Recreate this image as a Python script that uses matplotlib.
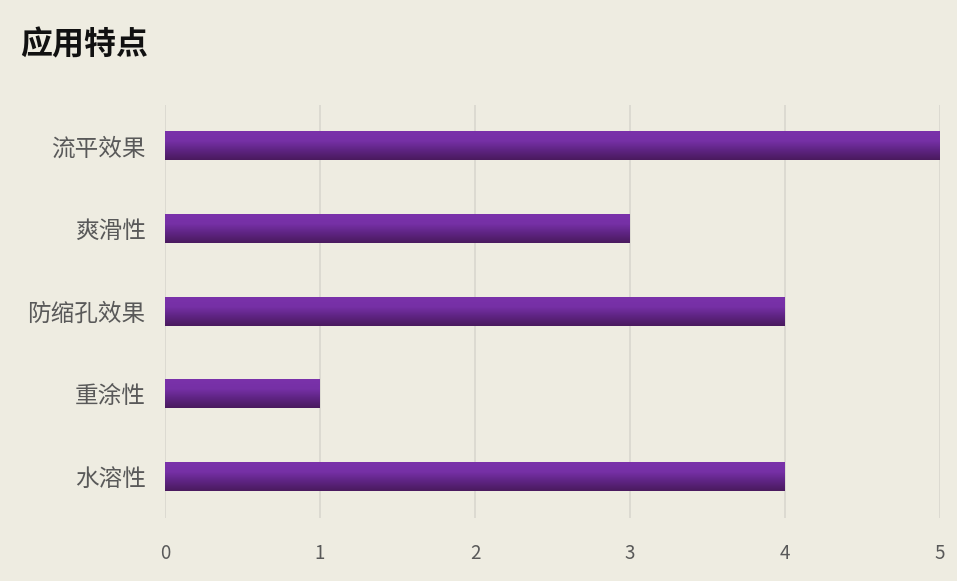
import matplotlib
matplotlib.use("Agg")
import matplotlib.pyplot as plt
import numpy as np
from matplotlib.colors import LinearSegmentedColormap

plt.rcParams['font.family'] = ['Noto Sans CJK SC', 'DejaVu Sans']

title = "应用特点"
categories = ["流平效果", "爽滑性", "防缩孔效果", "重涂性", "水溶性"]
values = [5, 3, 4, 1, 4]
xticks = [0, 1, 2, 3, 4, 5]

bg = "#EEECE1"
fig = plt.figure(figsize=(9.57, 5.81), dpi=100, facecolor=bg)
ax = fig.add_axes([165/957, 1-518/581, (940-165)/957, (518-105)/581])
ax.set_facecolor(bg)

ypos = np.arange(len(categories))[::-1]
bars = ax.barh(ypos, values, height=0.34, color="#6A2A94", edgecolor="none", zorder=2)

cmap = LinearSegmentedColormap.from_list("g", ["#4A1A5E", "#5E2482", "#7630A6", "#7A32AA"])
grad = np.linspace(0, 1, 64).reshape(-1, 1)
for b in bars:
    x0, y0, w, h = b.get_x(), b.get_y(), b.get_width(), b.get_height()
    ax.imshow(grad, extent=(x0, x0 + w, y0, y0 + h), origin="lower", cmap=cmap,
              aspect="auto", zorder=3)

ax.set_xlim(0, 5)
ax.set_ylim(-0.5, len(categories) - 0.5)
ax.set_xticks(xticks)
ax.set_xticklabels([str(t) for t in xticks])
ax.set_yticks(ypos)
ax.set_yticklabels(categories)
ax.grid(axis="x", color="#D9D7CE", linewidth=1.2, zorder=0)
ax.set_axisbelow(True)
for s in ax.spines.values():
    s.set_visible(False)
ax.tick_params(axis="both", length=0)
ax.tick_params(axis="x", pad=18, labelsize=13.5, labelcolor="#595959")
ax.tick_params(axis="y", pad=14, labelsize=17, labelcolor="#595959")

fig.text(20/957, 1-45/581, title, fontsize=23, fontweight="bold", color="#111111",
         ha="left", va="center")

fig.savefig("out.png", dpi=100, facecolor=bg)
